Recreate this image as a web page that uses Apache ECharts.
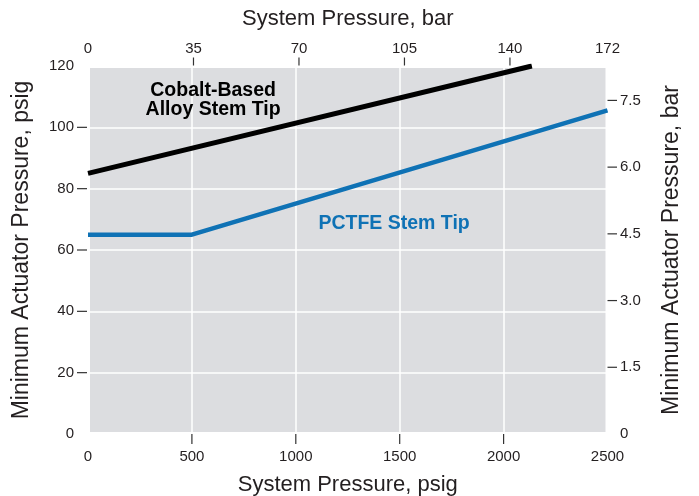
<!DOCTYPE html>
<html>
<head>
<meta charset="utf-8">
<script src="https://cdn.jsdelivr.net/npm/echarts@6/dist/echarts.min.js"></script>
<style>html,body{margin:0;padding:0;background:#fff}#c{width:699px;height:496px}</style>
</head>
<body>
<div id="c"></div>
<script>
// ---- data ----
var cobaltPsig = [0, 2136];
var cobaltAct = [85, 120];
var pctfePsig = [0, 500, 2500];
var pctfeAct = [65, 65, 105.5];
var psigLabels = [0, 500, 1000, 1500, 2000, 2500];
var psigTicks = [500, 1000, 1500, 2000];
var barTopLabels = [0, 35, 70, 105, 140, 172.36];
var barTopTicks = [35, 70, 105, 140];
var actPsigLabels = [0, 20, 40, 60, 80, 100, 120];
var actPsigTicks = [20, 40, 60, 80, 100];
var actBarLabels = [0, 1.5, 3.0, 4.5, 6.0, 7.5];
var actBarTicks = [1.5, 3.0, 4.5, 6.0, 7.5];
var PSI_PER_BAR = 14.5038;

function pairs(xs, ys) { return xs.map(function (x, i) { return [x, ys[i]]; }); }
function hasTick(list, v) {
  return list.some(function (t) { return Math.abs(t - v) < 1e-6; });
}

var FONT = 'Liberation Sans';
var TXT = '#231f20';
var TICK = '#333';
var BLUE = '#0f72b5';
var nameStyle = { fontFamily: FONT, fontSize: 22, color: TXT };
var sideNameStyle = { fontFamily: FONT, fontSize: 23, color: TXT };
var txt = { fontFamily: FONT, fontSize: 15, color: TXT };

var chart = echarts.init(document.getElementById('c'), null, { renderer: 'canvas' });
chart.setOption({
  animation: false,
  backgroundColor: '#fff',
  grid: {
    left: 88, right: 91.5, top: 66, bottom: 62, outerBoundsMode: 'none', containLabel: false,
    show: true, backgroundColor: '#dcdde0', borderColor: '#fff', borderWidth: 4
  },
  xAxis: [{
    type: 'value', position: 'bottom', min: 0, max: 2500, interval: 500,
    name: 'System Pressure, psig', nameLocation: 'middle', nameGap: 40, nameTextStyle: nameStyle,
    axisLine: { show: false }, axisTick: { show: false },
    axisLabel: {
      margin: 0, customValues: psigLabels, align: 'center', verticalAlign: 'top',
      formatter: function (v) {
        return (hasTick(psigTicks, v) ? '{k| }' : '{n| }') + '\n{t|' + v + '}';
      },
      rich: {
        t: Object.assign({ lineHeight: 18, padding: [7, 0, 0, 0], align: 'center' }, txt),
        k: { width: 1.2, height: 10, lineHeight: 10, fontSize: 1, backgroundColor: TICK, align: 'center' },
        n: { width: 1.2, height: 10, lineHeight: 10, fontSize: 1, align: 'center' }
      }
    },
    splitLine: { show: true, lineStyle: { color: '#fff', width: 1.5 } }
  }, {
    type: 'value', position: 'top', min: 0, max: 2500 / PSI_PER_BAR,
    name: 'System Pressure, bar', nameLocation: 'middle', nameGap: 36, nameTextStyle: nameStyle,
    axisLine: { show: false }, axisTick: { show: false },
    axisLabel: {
      margin: 0.5, customValues: barTopLabels, align: 'center', verticalAlign: 'bottom',
      formatter: function (v) {
        return '{t|' + Math.round(v) + '}\n' + (hasTick(barTopTicks, v) ? '{k| }' : '{n| }');
      },
      rich: {
        t: Object.assign({ lineHeight: 18, align: 'center' }, txt),
        k: { width: 1.2, height: 8, lineHeight: 8, fontSize: 1, backgroundColor: TICK, align: 'center' },
        n: { width: 1.2, height: 8, lineHeight: 8, fontSize: 1, align: 'center' }
      }
    },
    splitLine: { show: false }
  }],
  yAxis: [{
    type: 'value', position: 'left', min: 0, max: 120, interval: 20,
    name: 'Minimum Actuator Pressure, psig', nameLocation: 'middle', nameGap: 55, nameTextStyle: sideNameStyle,
    axisLine: { show: false }, axisTick: { show: false },
    axisLabel: {
      margin: 1, customValues: actPsigLabels, align: 'right',
      formatter: function (v) {
        return '{t|' + v + '}' + (hasTick(actPsigTicks, v) ? '{k| }' : '{n| }');
      },
      rich: {
        t: Object.assign({ padding: [0, 3, 0, 0] }, txt),
        k: { width: 10, height: 1.2, fontSize: 1, backgroundColor: TICK },
        n: { width: 10, height: 1.2, fontSize: 1 }
      }
    },
    splitLine: { show: true, lineStyle: { color: '#fff', width: 1.5 } }
  }, {
    type: 'value', position: 'right', min: 0, max: 120 / PSI_PER_BAR,
    name: 'Minimum Actuator Pressure, bar', nameLocation: 'middle', nameGap: 53, nameTextStyle: sideNameStyle,
    axisLine: { show: false }, axisTick: { show: false },
    axisLabel: {
      margin: 0, customValues: actBarLabels, align: 'left',
      formatter: function (v) {
        var s = v === 0 ? '0' : v.toFixed(1);
        return (hasTick(actBarTicks, v) ? '{k| }' : '{n| }') + '{t|' + s + '}';
      },
      rich: {
        t: Object.assign({ padding: [0, 0, 0, 3] }, txt),
        k: { width: 9.5, height: 1.2, fontSize: 1, backgroundColor: TICK },
        n: { width: 9.5, height: 1.2, fontSize: 1 }
      }
    },
    splitLine: { show: false }
  }],
  series: [{
    type: 'line', xAxisIndex: 0, yAxisIndex: 0, data: pairs(cobaltPsig, cobaltAct),
    symbol: 'none', clip: true, lineStyle: { color: '#000', width: 5 }, z: 3,
    markPoint: {
      symbol: 'circle', symbolSize: 0, silent: true,
      data: [{ coord: [602, 109.0], label: { show: true, position: 'inside',
        formatter: 'Cobalt-Based\nAlloy Stem Tip', fontFamily: FONT, fontWeight: 'bold',
        fontSize: 19.5, lineHeight: 19, color: '#000', align: 'center' } }]
    }
  }, {
    type: 'line', xAxisIndex: 0, yAxisIndex: 0, data: pairs(pctfePsig, pctfeAct),
    symbol: 'none', clip: true, lineStyle: { color: BLUE, width: 4.5 }, z: 3,
    markPoint: {
      symbol: 'circle', symbolSize: 0, silent: true,
      data: [{ coord: [1473, 68.6], label: { show: true, position: 'inside',
        formatter: 'PCTFE Stem Tip', fontFamily: FONT, fontWeight: 'bold',
        fontSize: 19.5, color: BLUE } }]
    }
  }]
});
</script>
</body>
</html>
